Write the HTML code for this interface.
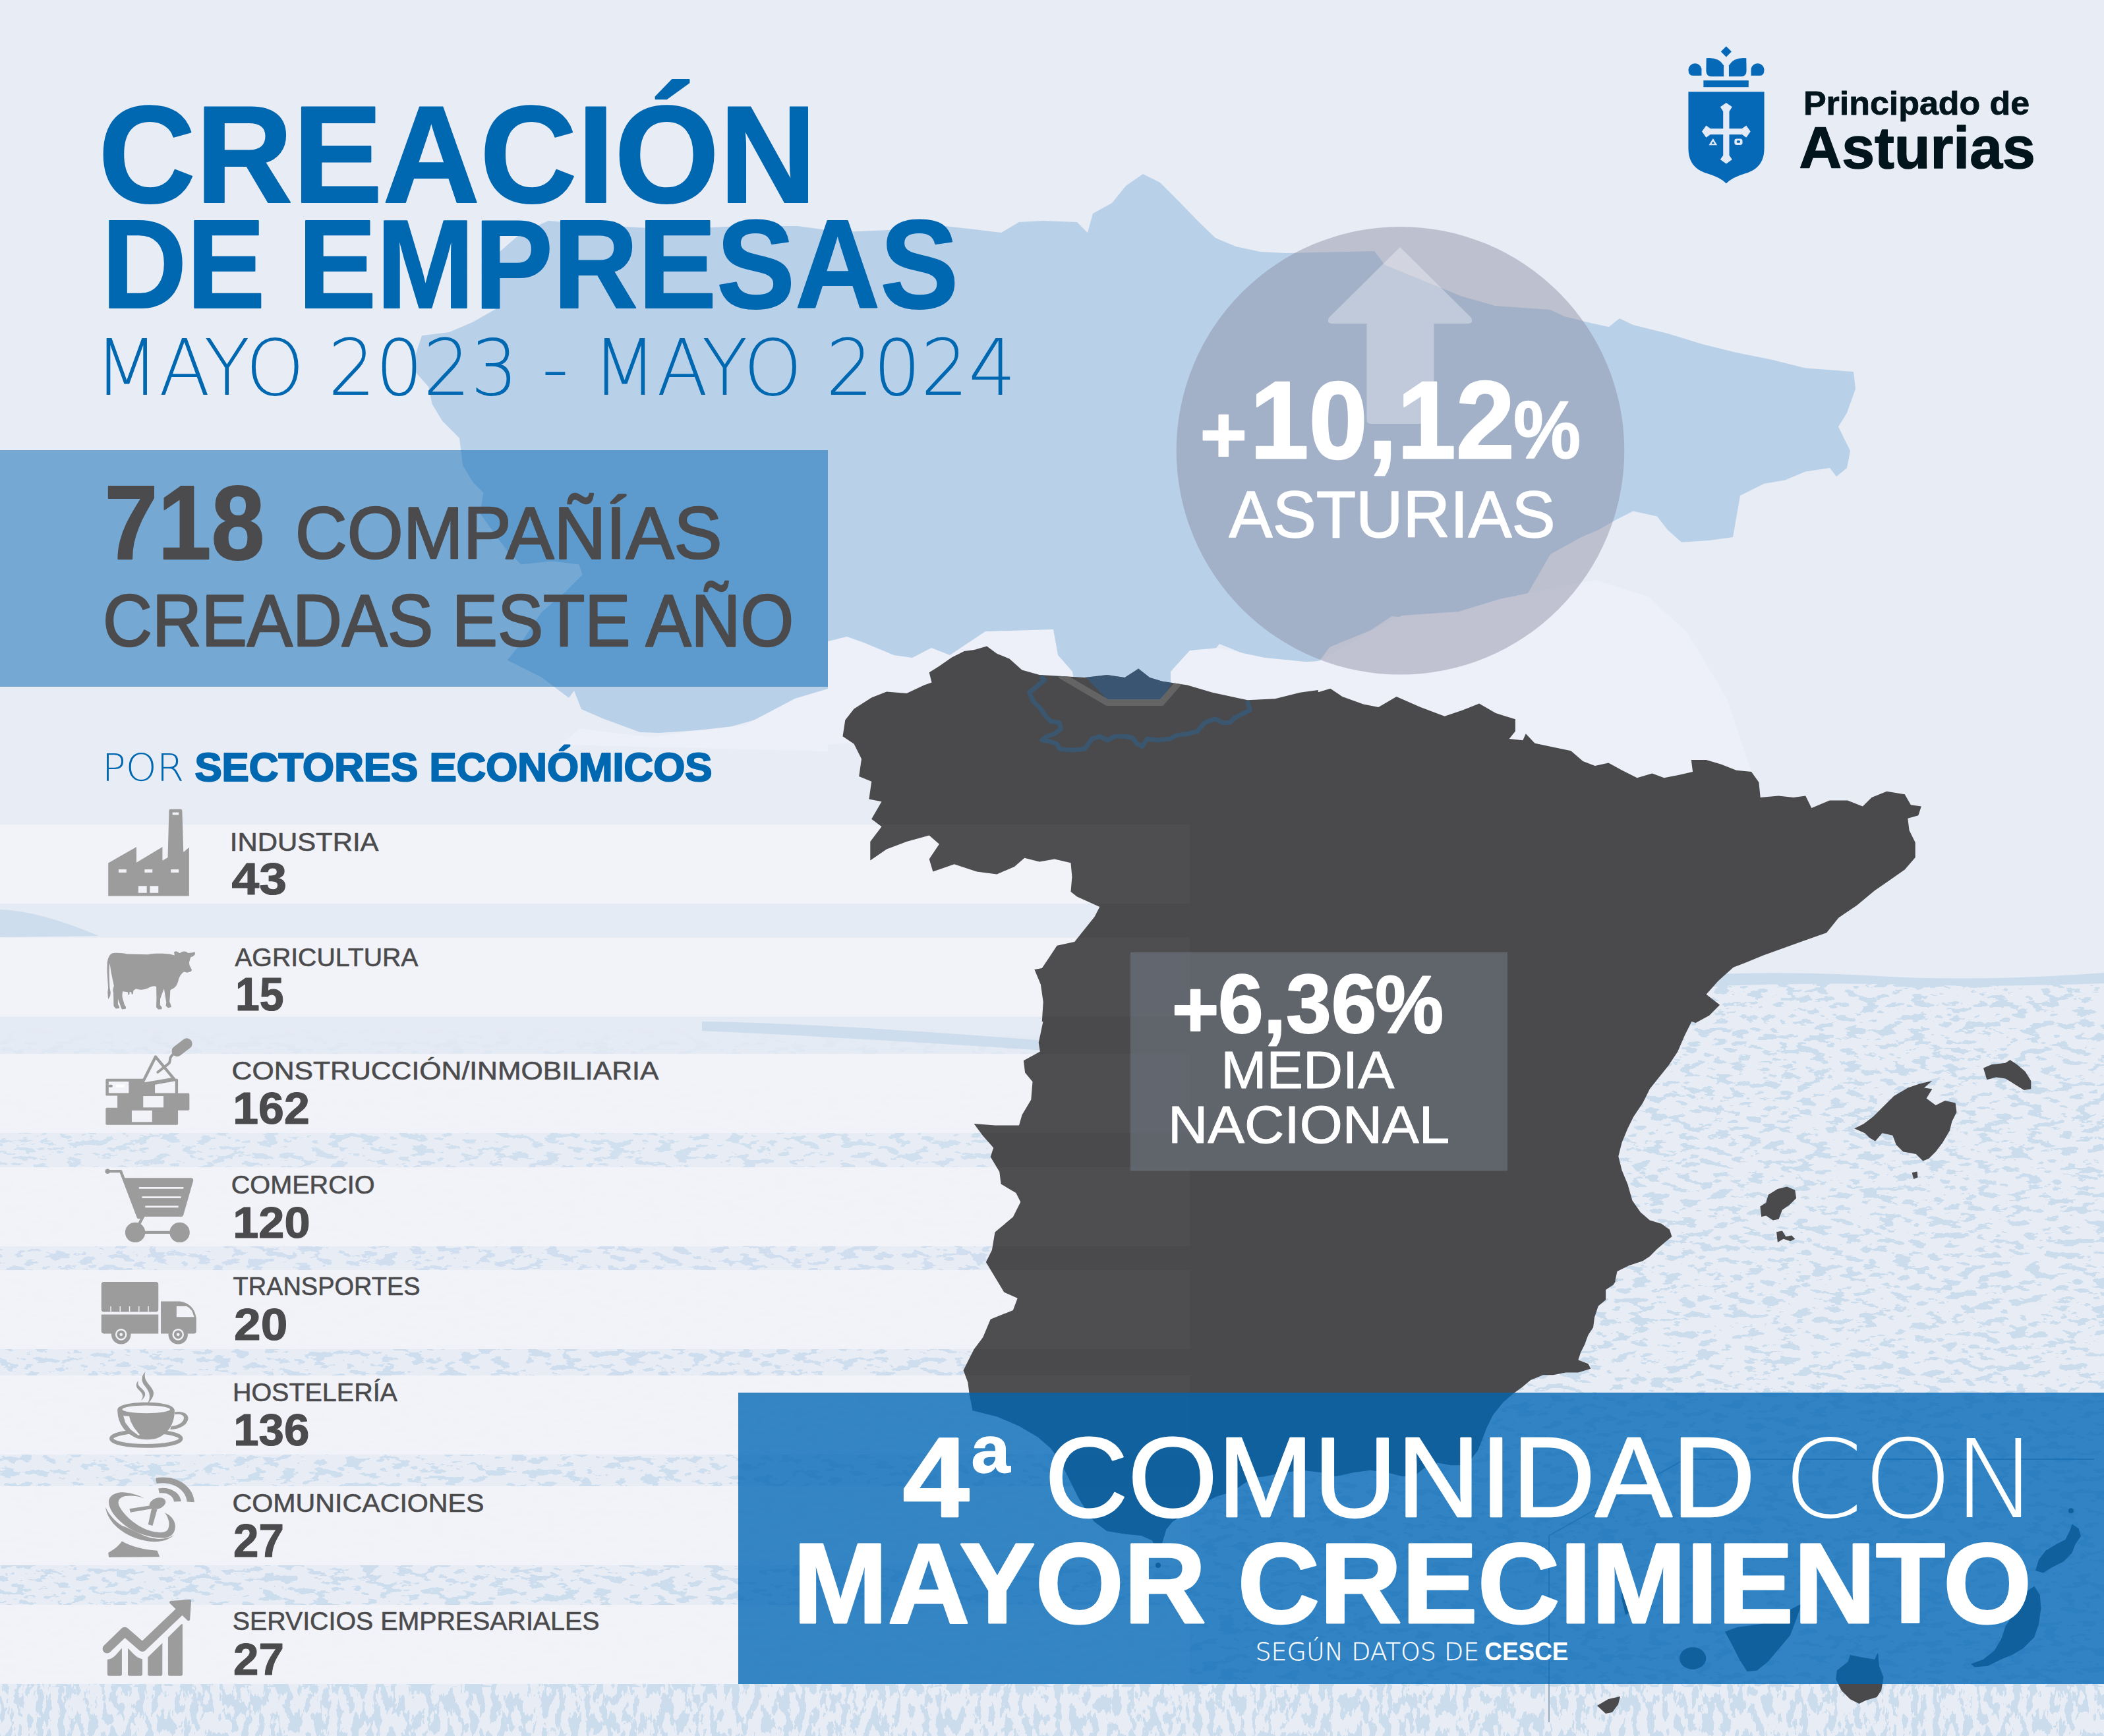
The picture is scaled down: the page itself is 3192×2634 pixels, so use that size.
<!DOCTYPE html>
<html lang="es"><head><meta charset="utf-8"><title>Creación de empresas - Principado de Asturias</title>
<style>html,body{margin:0;padding:0;background:#e8ecf5;}body{width:3192px;height:2634px;overflow:hidden;}svg{display:block;}text{white-space:pre;}</style>
</head><body>
<svg width="3192" height="2634" viewBox="0 0 3192 2634">
<defs>
<filter id="tx" x="0" y="0" width="100%" height="100%" color-interpolation-filters="sRGB">
<feTurbulence type="fractalNoise" baseFrequency="0.04 0.1" numOctaves="4" seed="7"/>
<feColorMatrix type="matrix" values="0 0 0 0 0.796  0 0 0 0 0.863  0 0 0 0 0.929  40 0 0 0 -22.7"/>
</filter>
<filter id="tx2" x="0" y="0" width="100%" height="100%" color-interpolation-filters="sRGB">
<feTurbulence type="fractalNoise" baseFrequency="0.09 0.035" numOctaves="4" seed="11"/>
<feColorMatrix type="matrix" values="0 0 0 0 0.796  0 0 0 0 0.863  0 0 0 0 0.929  40 0 0 0 -20.6"/>
</filter>
<linearGradient id="tg" x1="0" y1="0" x2="0" y2="1"><stop offset="0" stop-color="#fff" stop-opacity="0"/><stop offset="0.12" stop-color="#fff" stop-opacity="0.8"/><stop offset="1" stop-color="#fff" stop-opacity="1"/></linearGradient>
<mask id="tm"><rect x="0" y="1560" width="1700" height="1074" fill="url(#tg)"/><rect x="1700" y="1492" width="1492" height="1142" fill="#fff"/></mask>
<clipPath id="mapclip"><path d="M1278.5 1117.3 L1282.3 1092.6 L1295.6 1075.5 L1322.2 1058.4 L1345.1 1049.6 L1375.5 1051.9 L1402.1 1039.4 L1413.5 1035.6 L1409.7 1020.3 L1424.9 1010.8 L1443.9 997.5 L1462.9 988 L1478.1 986.1 L1497.1 980.4 L1512.4 991.8 L1531.4 999.4 L1550.4 1016.5 L1577 1024.1 L1611.2 1026 L1645.4 1027.9 L1679.7 1024.1 L1706.3 1027.9 L1727.2 1014.6 L1744.3 1027.9 L1763.3 1033.7 L1801.3 1039.4 L1839.4 1050.8 L1892.6 1062.2 L1934.4 1060.3 L1972.4 1050.8 L1999.8 1047 L2000 1050.2 L2018.3 1044.7 L2036.5 1057 L2068.4 1068.4 L2091.3 1073 L2118.6 1057 L2155.1 1073 L2191.6 1086.7 L2219 1077.6 L2244.1 1067.5 L2269.2 1082.1 L2298.9 1091.3 L2298.9 1109.5 L2289.7 1120.9 L2310.3 1123.2 L2314.8 1113.2 L2328.5 1127.8 L2360.5 1134.6 L2383.3 1139.2 L2401.5 1155.1 L2419.8 1162 L2440.3 1157.4 L2460.8 1168.8 L2483.7 1180.2 L2506.5 1173.4 L2524.7 1180.2 L2547.5 1175.7 L2568.1 1171.1 L2565.8 1152.9 L2588.6 1152.9 L2611.4 1159.7 L2634.2 1168.8 L2657 1171.1 L2668.4 1187.1 L2670.7 1209.9 L2698.1 1207.6 L2720.9 1209.9 L2739.2 1207.6 L2748.3 1225.9 L2775.7 1214.4 L2803 1214.4 L2825.9 1223.6 L2839.5 1209.9 L2862.4 1200.8 L2889.7 1205.3 L2898.9 1221.3 L2914.8 1223.6 L2910.3 1237.3 L2894.3 1241.8 L2896.6 1260.1 L2905.7 1278.3 L2905.7 1301.1 L2889.7 1319.4 L2866.9 1335.4 L2844.1 1351.3 L2816.7 1374.1 L2789.4 1392.4 L2771.1 1415.2 L2739.2 1426.6 L2707.2 1438 L2675.3 1449.4 L2647.9 1460.8 L2629.7 1467.7 L2606.8 1488.2 L2588.6 1508.7 L2609.1 1524.7 L2593.2 1540.7 L2572.6 1552.1 L2566.4 1550 L2555.8 1571.2 L2545.2 1595.8 L2531.1 1617 L2517 1634.6 L2502.9 1652.3 L2492.3 1673.4 L2478.2 1694.6 L2469.4 1712.2 L2460.6 1733.4 L2455.3 1754.5 L2460.6 1775.7 L2469.4 1796.9 L2476.4 1821.5 L2488.8 1839.2 L2502.9 1851.5 L2520.5 1856.8 L2532.9 1865.6 L2536.4 1876.2 L2525.8 1885 L2513.5 1895.6 L2502.9 1906.2 L2492.3 1913.2 L2471.2 1920.3 L2453.5 1929.1 L2450 1945 L2455.1 1938 L2447.5 1949.4 L2436.1 1957 L2436.1 1972.2 L2424.7 1981.7 L2419 1998.9 L2417.1 2014.1 L2409.5 2025.5 L2403.8 2040.7 L2398.1 2052.1 L2394.3 2063.5 L2409.5 2069.2 L2413.3 2076.8 L2394.3 2082.5 L2375.3 2082.5 L2356.3 2086.3 L2341.1 2086.3 L2322.1 2093.9 L2308.7 2105.3 L2295.4 2114.8 L2280.2 2128.1 L2265 2147.1 L2255.5 2166.2 L2249.8 2181.4 L2242.2 2200.4 L2230.8 2215.6 L2219.4 2223.2 L2200.4 2223.2 L2181.4 2219.4 L2166.2 2223.2 L2147.1 2238.4 L2128.1 2240.3 L2105.3 2234.6 L2078.7 2230.8 L2052.1 2234.6 L2025.5 2240.3 L2006.5 2234.6 L1976 2230.8 L1945.6 2234.6 L1919 2240.3 L1900 2242.2 L1869.2 2263.6 L1845.4 2270.7 L1821.6 2282.6 L1797.9 2296.8 L1778.9 2308.7 L1769.4 2320.6 L1762.2 2344.4 L1755.1 2351.5 L1748 2337.2 L1731.3 2330.1 L1707.6 2327.7 L1679 2323 L1660 2308.7 L1648.2 2292.1 L1636.3 2273.1 L1626.8 2254.1 L1617.3 2235.1 L1607.8 2216 L1593.5 2197 L1574.5 2180.4 L1546 2163.8 L1512.7 2149.5 L1474.7 2140 L1475.3 2138.6 L1470.7 2115.8 L1468.4 2097.5 L1461.6 2079.3 L1468.4 2065.6 L1477.6 2047.3 L1491.3 2029.1 L1502.7 2001.7 L1536.9 1988 L1543.7 1969.8 L1523.2 1960.6 L1509.5 1937.8 L1495.8 1915 L1504.9 1896.8 L1509.5 1869.4 L1536.9 1846.6 L1548.3 1823.8 L1541.4 1810.1 L1518.6 1796.4 L1516.3 1778.1 L1502.7 1755.3 L1507.2 1741.6 L1491.3 1723.4 L1477.6 1705.1 L1509.5 1707.4 L1546 1707.4 L1550.6 1691.4 L1564.3 1668.6 L1566.5 1641.3 L1555.1 1627.6 L1552.9 1609.3 L1577.9 1595.6 L1575.7 1581.9 L1582.5 1550 L1580.8 1550 L1582.7 1520.3 L1578.9 1493.7 L1569.4 1470.9 L1580.8 1469 L1592.2 1451.9 L1603.6 1434.8 L1630.2 1429.1 L1645.4 1410.1 L1660.6 1391.1 L1668.3 1375.9 L1634 1360.6 L1624.5 1353 L1626.4 1330.2 L1624.5 1309.3 L1599.8 1303.6 L1577 1307.4 L1554.2 1301.7 L1539 1315 L1512.4 1326.4 L1481.9 1322.6 L1447.7 1311.2 L1415.4 1322.6 L1409.7 1303.6 L1424.9 1280.8 L1409.7 1267.5 L1375.5 1277 L1345.1 1288.4 L1320.3 1305.5 L1320.3 1277 L1337.5 1254.2 L1322.2 1242.8 L1337.5 1216.2 L1318.4 1212.4 L1322.2 1185.7 L1303.2 1178.1 L1307 1151.5 L1295.6 1128.7Z"/></clipPath>
</defs>
<rect width="3192" height="2634" fill="#e8ecf5"/>
<rect x="0" y="1250" width="1700" height="350" fill="#cbdced" fill-opacity="0.07"/>
<g mask="url(#tm)"><rect x="0" y="1480" width="3192" height="1080" filter="url(#tx)"/><rect x="0" y="2555" width="3192" height="79" filter="url(#tx2)"/></g>
<path d="M2560 1480 Q2700 1472 2850 1481 T3192 1476 L3192 1492 Q3050 1498 2900 1494 T2600 1496 Z" fill="#cbdced"/>
<path d="M0 1380 Q60 1382 150 1420 L0 1422 Z M1065 1550 Q1250 1552 1650 1584 L1650 1598 Q1250 1572 1065 1564 Z" fill="#c3d7ea" fill-opacity="0.7"/>

<path d="M832 335 L915 342 L1018 348 L1122 343 L1210 343 L1278 352 L1373 348 L1425 342 L1478 348 L1519 353 L1546 337 L1582 335 L1634 337 L1650 353 L1658 324 L1687 308 L1708 282 L1734 264 L1760 277 L1791 308 L1817 335 L1844 361 L1875 374 L1912 382 L1950 384 L2085 381 L2101 402 L2216 449 L2268 464 L2352 470 L2373 480 L2415 490.6 L2441 496 L2457 483 L2477.6 493 L2530 506 L2582 522 L2634.5 535 L2687 545.5 L2739 558.6 L2812 564 L2815 590 L2802 626.6 L2789 647.5 L2807 684 L2802 710 L2786 723 L2776 710 L2739 715.5 L2708 728.5 L2676 734 L2640 752 L2634.5 783.5 L2629 815 L2592.7 820 L2551 822.7 L2530 804 L2514 783.5 L2477.6 775.6 L2451.5 788.7 L2425 804 L2399 815 L2352 841 L2331 877.6 L2310 914 L2268 924.7 L2216 935 L2164 940 L2111.5 935 L2080 956 L2017 982 L2001.7 1003 L1954.6 1005.7 L1902 998 L1850 977 L1800 1040 L1700 1060 L1500 1080 L1300 1090 L1206 1075 L1100 1105 L1000 1112 L971 1111 L914 1090 L882 1076 L871 1048 L862.9 1058.8 L821.4 1027.6 L769.6 1001.7 L790.3 975.8 L821.4 929.1 L857.7 898 L883.6 872.1 L878.5 856.6 L837 851.4 L790.3 856.6 L769.6 835.8 L754 815.1 L728.1 778.8 L733.3 747.7 L717.7 732.1 L702.2 706.2 L699.6 685.5 L697 664.7 L671.1 638.8 L655.5 612.9 L650.3 587 L627 561.1 L629.6 540.3 L640 509.2 L681.5 504 L717.7 488.5 L754 467.7 L743.7 421.1 L748.8 390 L790.3 353.7Z" fill="#b9d1e8"/>
<path d="M1256 1042 L1256 973 L1285 966 L1313 976 L1356 994 L1384 998 L1413 983 L1441 994 L1495 958 L1598 955 L1605 994 L1627 1019 L1640 1100 L1256 1130Z" fill="#edf0f8"/>
<path d="M1776 1019 L1805 987 L1848 983 L1919 998 L1990 1005 L2003 1002 L2090 952 L2127 934 L2213 928 L2275 909 L2318 900 L2420 880 L2500 905 L2560 960 L2620 1060 L2660 1180 L1776 1180Z" fill="#edf0f8"/>
<path d="M850 1130 L880 1105 L930 1112 L990 1118 L1060 1108 L1130 1100 L1206 1060 L1256 1045 L1256 1140Z" fill="#edf0f8"/>
<rect x="0" y="683" width="1256" height="359" fill="#0266b3" fill-opacity="0.5"/>
<rect x="0" y="1251" width="1805" height="120" fill="#f2f3f8" fill-opacity="0.97"/>
<rect x="0" y="1422.5" width="1805" height="120.0" fill="#f2f3f8" fill-opacity="0.97"/>
<rect x="0" y="1599" width="1805" height="120" fill="#f2f3f8" fill-opacity="0.97"/>
<rect x="0" y="1771" width="1805" height="120" fill="#f2f3f8" fill-opacity="0.97"/>
<rect x="0" y="1927" width="1805" height="120" fill="#f2f3f8" fill-opacity="0.97"/>
<rect x="0" y="2087" width="1805" height="120" fill="#f2f3f8" fill-opacity="0.97"/>
<rect x="0" y="2255" width="1805" height="120" fill="#f2f3f8" fill-opacity="0.97"/>
<rect x="0" y="2435" width="1805" height="120" fill="#f2f3f8" fill-opacity="0.97"/>
<path d="M1278.5 1117.3 L1282.3 1092.6 L1295.6 1075.5 L1322.2 1058.4 L1345.1 1049.6 L1375.5 1051.9 L1402.1 1039.4 L1413.5 1035.6 L1409.7 1020.3 L1424.9 1010.8 L1443.9 997.5 L1462.9 988 L1478.1 986.1 L1497.1 980.4 L1512.4 991.8 L1531.4 999.4 L1550.4 1016.5 L1577 1024.1 L1611.2 1026 L1645.4 1027.9 L1679.7 1024.1 L1706.3 1027.9 L1727.2 1014.6 L1744.3 1027.9 L1763.3 1033.7 L1801.3 1039.4 L1839.4 1050.8 L1892.6 1062.2 L1934.4 1060.3 L1972.4 1050.8 L1999.8 1047 L2000 1050.2 L2018.3 1044.7 L2036.5 1057 L2068.4 1068.4 L2091.3 1073 L2118.6 1057 L2155.1 1073 L2191.6 1086.7 L2219 1077.6 L2244.1 1067.5 L2269.2 1082.1 L2298.9 1091.3 L2298.9 1109.5 L2289.7 1120.9 L2310.3 1123.2 L2314.8 1113.2 L2328.5 1127.8 L2360.5 1134.6 L2383.3 1139.2 L2401.5 1155.1 L2419.8 1162 L2440.3 1157.4 L2460.8 1168.8 L2483.7 1180.2 L2506.5 1173.4 L2524.7 1180.2 L2547.5 1175.7 L2568.1 1171.1 L2565.8 1152.9 L2588.6 1152.9 L2611.4 1159.7 L2634.2 1168.8 L2657 1171.1 L2668.4 1187.1 L2670.7 1209.9 L2698.1 1207.6 L2720.9 1209.9 L2739.2 1207.6 L2748.3 1225.9 L2775.7 1214.4 L2803 1214.4 L2825.9 1223.6 L2839.5 1209.9 L2862.4 1200.8 L2889.7 1205.3 L2898.9 1221.3 L2914.8 1223.6 L2910.3 1237.3 L2894.3 1241.8 L2896.6 1260.1 L2905.7 1278.3 L2905.7 1301.1 L2889.7 1319.4 L2866.9 1335.4 L2844.1 1351.3 L2816.7 1374.1 L2789.4 1392.4 L2771.1 1415.2 L2739.2 1426.6 L2707.2 1438 L2675.3 1449.4 L2647.9 1460.8 L2629.7 1467.7 L2606.8 1488.2 L2588.6 1508.7 L2609.1 1524.7 L2593.2 1540.7 L2572.6 1552.1 L2566.4 1550 L2555.8 1571.2 L2545.2 1595.8 L2531.1 1617 L2517 1634.6 L2502.9 1652.3 L2492.3 1673.4 L2478.2 1694.6 L2469.4 1712.2 L2460.6 1733.4 L2455.3 1754.5 L2460.6 1775.7 L2469.4 1796.9 L2476.4 1821.5 L2488.8 1839.2 L2502.9 1851.5 L2520.5 1856.8 L2532.9 1865.6 L2536.4 1876.2 L2525.8 1885 L2513.5 1895.6 L2502.9 1906.2 L2492.3 1913.2 L2471.2 1920.3 L2453.5 1929.1 L2450 1945 L2455.1 1938 L2447.5 1949.4 L2436.1 1957 L2436.1 1972.2 L2424.7 1981.7 L2419 1998.9 L2417.1 2014.1 L2409.5 2025.5 L2403.8 2040.7 L2398.1 2052.1 L2394.3 2063.5 L2409.5 2069.2 L2413.3 2076.8 L2394.3 2082.5 L2375.3 2082.5 L2356.3 2086.3 L2341.1 2086.3 L2322.1 2093.9 L2308.7 2105.3 L2295.4 2114.8 L2280.2 2128.1 L2265 2147.1 L2255.5 2166.2 L2249.8 2181.4 L2242.2 2200.4 L2230.8 2215.6 L2219.4 2223.2 L2200.4 2223.2 L2181.4 2219.4 L2166.2 2223.2 L2147.1 2238.4 L2128.1 2240.3 L2105.3 2234.6 L2078.7 2230.8 L2052.1 2234.6 L2025.5 2240.3 L2006.5 2234.6 L1976 2230.8 L1945.6 2234.6 L1919 2240.3 L1900 2242.2 L1869.2 2263.6 L1845.4 2270.7 L1821.6 2282.6 L1797.9 2296.8 L1778.9 2308.7 L1769.4 2320.6 L1762.2 2344.4 L1755.1 2351.5 L1748 2337.2 L1731.3 2330.1 L1707.6 2327.7 L1679 2323 L1660 2308.7 L1648.2 2292.1 L1636.3 2273.1 L1626.8 2254.1 L1617.3 2235.1 L1607.8 2216 L1593.5 2197 L1574.5 2180.4 L1546 2163.8 L1512.7 2149.5 L1474.7 2140 L1475.3 2138.6 L1470.7 2115.8 L1468.4 2097.5 L1461.6 2079.3 L1468.4 2065.6 L1477.6 2047.3 L1491.3 2029.1 L1502.7 2001.7 L1536.9 1988 L1543.7 1969.8 L1523.2 1960.6 L1509.5 1937.8 L1495.8 1915 L1504.9 1896.8 L1509.5 1869.4 L1536.9 1846.6 L1548.3 1823.8 L1541.4 1810.1 L1518.6 1796.4 L1516.3 1778.1 L1502.7 1755.3 L1507.2 1741.6 L1491.3 1723.4 L1477.6 1705.1 L1509.5 1707.4 L1546 1707.4 L1550.6 1691.4 L1564.3 1668.6 L1566.5 1641.3 L1555.1 1627.6 L1552.9 1609.3 L1577.9 1595.6 L1575.7 1581.9 L1582.5 1550 L1580.8 1550 L1582.7 1520.3 L1578.9 1493.7 L1569.4 1470.9 L1580.8 1469 L1592.2 1451.9 L1603.6 1434.8 L1630.2 1429.1 L1645.4 1410.1 L1660.6 1391.1 L1668.3 1375.9 L1634 1360.6 L1624.5 1353 L1626.4 1330.2 L1624.5 1309.3 L1599.8 1303.6 L1577 1307.4 L1554.2 1301.7 L1539 1315 L1512.4 1326.4 L1481.9 1322.6 L1447.7 1311.2 L1415.4 1322.6 L1409.7 1303.6 L1424.9 1280.8 L1409.7 1267.5 L1375.5 1277 L1345.1 1288.4 L1320.3 1305.5 L1320.3 1277 L1337.5 1254.2 L1322.2 1242.8 L1337.5 1216.2 L1318.4 1212.4 L1322.2 1185.7 L1303.2 1178.1 L1307 1151.5 L1295.6 1128.7Z" fill="#4a4a4c"/>
<path d="M2813.2 1712.2 L2827.3 1705.2 L2841.5 1694.6 L2855.6 1680.5 L2873.2 1662.9 L2894.4 1650.5 L2912 1644.5 L2931.4 1639.9 L2919 1650.5 L2931.4 1652.3 L2922.6 1666.4 L2936.7 1677 L2950.8 1669.9 L2966.6 1673.4 L2968.4 1687.5 L2961.4 1701.6 L2957.8 1715.8 L2947.3 1733.4 L2936.7 1747.5 L2926.1 1758.1 L2917.3 1761.6 L2906.7 1751 L2887.3 1747.5 L2876.7 1736.9 L2871.4 1722.8 L2855.6 1719.3 L2845 1731.6 L2836.2 1726.3 L2829.1 1719.3Z" fill="#4a4a4c"/>
<path d="M3009 1620.5 L3021.3 1615.2 L3042.5 1612.8 L3049.5 1608.2 L3060.1 1615.2 L3072.4 1625.8 L3081.3 1639.9 L3081.3 1652.3 L3070.7 1654 L3056.6 1645.2 L3042.5 1636.4 L3028.4 1634.6 L3014.3 1638.2Z" fill="#4a4a4c"/>
<path d="M2670.4 1830.4 L2679.2 1825.1 L2682.8 1812.7 L2696.9 1803.9 L2711 1800.4 L2723.3 1805.7 L2725.1 1818 L2714.5 1828.6 L2703.9 1835.7 L2698.6 1849.8 L2689.8 1851.5 L2679.2 1844.5 L2672.2 1846.2Z" fill="#4a4a4c"/>
<path d="M2695.1 1869.2 L2703.9 1867.4 L2709.2 1876.2 L2718 1874.4 L2723.3 1879.7 L2716.3 1883.3 L2705.7 1879.7 L2696.9 1885Z" fill="#4a4a4c"/>
<path d="M2900.7 1779.2 L2908.5 1777.5 L2909.5 1786.3 L2903.2 1789.1Z" fill="#4a4a4c"/>
<path d="M2616.9 2475.7 L2635.4 2468.9 L2672.4 2463.9 L2712.8 2443.7 L2733 2433.6 L2726.3 2453.8 L2716.2 2480.7 L2699.4 2500.9 L2682.5 2521.1 L2665.7 2534.6 L2650.6 2536.2 L2638.8 2517.7 L2628.7 2497.5Z" fill="#4a4a4c"/>
<path d="M2786.9 2534.6 L2803.7 2521.1 L2807 2511 L2823.9 2514.4 L2844.1 2517.7 L2849.1 2507.6 L2850.8 2527.8 L2857.5 2544.7 L2854.2 2564.8 L2847.4 2574.9 L2830.6 2580 L2820.5 2585 L2807 2578.3 L2793.6 2564.8 L2785.2 2548Z" fill="#4a4a4c"/>
<path d="M3086.3 2406.7 L3094.8 2420.2 L3096.4 2440.3 L3093.1 2463.9 L3086.3 2484.1 L3069.5 2500.9 L3052.7 2511 L3035.9 2517.7 L3015.7 2527.8 L2995.5 2529.5 L2990.4 2524.5 L3008.9 2517.7 L3025.8 2504.3 L3035.9 2487.5 L3042.6 2467.3 L3056.1 2447.1 L3066.1 2426.9 L3076.2 2413.4Z" fill="#4a4a4c"/>
<path d="M3088 2383.1 L3093.1 2366.3 L3103.2 2352.9 L3120 2342.8 L3133.4 2336 L3140.2 2322.6 L3143.5 2312.5 L3153.6 2319.2 L3157 2331 L3148.6 2342.8 L3143.5 2356.2 L3130.1 2369.7 L3113.3 2378.1 L3099.8 2386.5Z" fill="#4a4a4c"/>
<path d="M2462 2395 L2476 2392 L2482 2415 L2476 2445 L2466 2450 L2460 2425Z" fill="#4a4a4c"/>
<path d="M2423 2588 L2440 2578 L2458 2574 L2455 2586 L2446 2598 L2436 2600Z" fill="#4a4a4c"/>
<ellipse cx="2568.1" cy="2516.1" rx="20.2" ry="16.8" fill="#4a4a4c"/>
<circle cx="3141.9" cy="2292.3" r="4" fill="#4a4a4c"/>
<circle cx="1757" cy="2375" r="4" fill="#4a4a4c"/>
<g clip-path="url(#mapclip)">
<rect x="0" y="1251" width="1805" height="120" fill="#fff" fill-opacity="0.022"/>
<rect x="0" y="1422.5" width="1805" height="120.0" fill="#fff" fill-opacity="0.022"/>
<rect x="0" y="1599" width="1805" height="120" fill="#fff" fill-opacity="0.022"/>
<rect x="0" y="1771" width="1805" height="120" fill="#fff" fill-opacity="0.022"/>
<rect x="0" y="1927" width="1805" height="120" fill="#fff" fill-opacity="0.022"/>
<rect x="0" y="2087" width="1805" height="120" fill="#fff" fill-opacity="0.022"/>
<rect x="0" y="2255" width="1805" height="120" fill="#fff" fill-opacity="0.022"/>
<rect x="0" y="2435" width="1805" height="120" fill="#fff" fill-opacity="0.022"/>
<path d="M1640 1020 L1680 1062 L1762 1062 L1782 1030 L1782 900 L1640 900Z" fill="#2d5f8f" fill-opacity="0.55"/>
<path d="M1608 1024 L1680 1066 L1762 1066 L1790 1034" fill="none" stroke="#6a6a6c" stroke-width="10" stroke-opacity="0.8"/>
<path d="M1578.9 1026 L1584.6 1031.7 L1573.2 1041.3 L1561.8 1050.8 L1567.5 1064.1 L1578.9 1075.5 L1586.5 1086.9 L1594.1 1094.5 L1607.4 1096.4 L1609.3 1105.9 L1599.8 1113.5 L1588.4 1117.3 L1580.8 1123 L1592.2 1124.9 L1603.6 1128.7 L1607.4 1136.3 L1626.4 1138.2 L1645.4 1136.3 L1656.8 1121.1 L1668.3 1117.3 L1679.7 1123 L1691.1 1117.3 L1706.3 1117.3 L1717.7 1119.2 L1725.3 1128.7 L1732.9 1132.5 L1740.5 1121.1 L1755.7 1123 L1774.7 1121.1 L1786.1 1115.4 L1801.3 1113.5 L1816.5 1109.7 L1827.9 1096.4 L1843.2 1090.7 L1854.6 1096.4 L1866 1096.4 L1873.6 1088.8 L1885 1083.1 L1896.4 1077.4 L1892.6 1064.1" fill="none" stroke="#3b566f" stroke-width="7" stroke-linejoin="round"/>
</g>
<path d="M2350 2613 L2350 2330 L2556 2214 L3177 2214" fill="none" stroke="#5a7f9f" stroke-opacity="0.6" stroke-width="2"/>
<circle cx="2124.5" cy="683.8" r="339.8" fill="#85869d" fill-opacity="0.43"/>
<path d="M2124 375 L2232 482 Q2236 491 2226 491 L2175.5 491 L2175.5 637 Q2175.5 643 2169 643 L2080 643 Q2073.5 643 2073.5 637 L2073.5 491 L2022 491 Q2012 491 2016 482 Z" fill="#fff" fill-opacity="0.33"/>
<rect x="1715" y="1445" width="572" height="331.5" fill="#838b9c" fill-opacity="0.40"/>
<rect x="1120" y="2113" width="2072" height="442" fill="#0066b5" fill-opacity="0.785"/>
<text transform="translate(149.2,307.0) scale(0.9733,1)" font-size="209.9" font-family="Liberation Sans, sans-serif" font-weight="bold" fill="#0067b1" stroke="#0067b1" stroke-width="2" stroke-linejoin="round">CREACIÓN</text>
<text transform="translate(154.2,466.7) scale(0.9371,1)" font-size="190.6" font-family="Liberation Sans, sans-serif" font-weight="bold" fill="#0067b1" stroke="#0067b1" stroke-width="2" stroke-linejoin="round">DE EMPRESAS</text>
<text transform="translate(143.5,599.0) scale(0.9553,1)" font-size="118.5" font-family="DejaVu Sans Light, DejaVu Sans, sans-serif" font-weight="200" fill="#0067b1">MAYO 2023 - MAYO 2024</text>
<text transform="translate(158.5,848.0) scale(0.9174,1)" font-size="158.7" font-family="Liberation Sans, sans-serif" font-weight="bold" fill="#4b4b4d" stroke="#4b4b4d" stroke-width="2" stroke-linejoin="round">718</text>
<text transform="translate(447.8,847.0) scale(0.9891,1)" font-size="110.5" font-family="Liberation Sans, sans-serif" fill="#4b4b4d" stroke="#4b4b4d" stroke-width="2.5" stroke-linejoin="round">COMPAÑÍAS</text>
<text transform="translate(156.1,980.0) scale(0.9377,1)" font-size="110.5" font-family="Liberation Sans, sans-serif" fill="#4b4b4d" stroke="#4b4b4d" stroke-width="2.5" stroke-linejoin="round">CREADAS ESTE AÑO</text>
<text transform="translate(154.7,1184.6) scale(1.0459,1)" font-size="57.1" font-family="DejaVu Sans Light, DejaVu Sans, sans-serif" font-weight="200" fill="#0067b1">POR</text>
<text transform="translate(295.4,1184.6) scale(1.0217,1)" font-size="60.5" font-family="Liberation Sans, sans-serif" font-weight="bold" fill="#0067b1" stroke="#0067b1" stroke-width="2.2" stroke-linejoin="round">SECTORES ECONÓMICOS</text>
<text transform="translate(348.8,1290.6) scale(1.1052,1)" font-size="37.9" font-family="Liberation Sans, sans-serif" fill="#4b4b4d" stroke="#4b4b4d" stroke-width="0.6" stroke-linejoin="round">INDUSTRIA</text>
<text transform="translate(356.2,1465.5) scale(1.0196,1)" font-size="38.5" font-family="Liberation Sans, sans-serif" fill="#4b4b4d" stroke="#4b4b4d" stroke-width="0.6" stroke-linejoin="round">AGRICULTURA</text>
<text transform="translate(351.6,1637.5) scale(1.1095,1)" font-size="38.5" font-family="Liberation Sans, sans-serif" fill="#4b4b4d" stroke="#4b4b4d" stroke-width="0.6" stroke-linejoin="round">CONSTRUCCIÓN/INMOBILIARIA</text>
<text transform="translate(350.7,1810.5) scale(1.0299,1)" font-size="38.5" font-family="Liberation Sans, sans-serif" fill="#4b4b4d" stroke="#4b4b4d" stroke-width="0.6" stroke-linejoin="round">COMERCIO</text>
<text transform="translate(353.5,1965.4) scale(0.9889,1)" font-size="38.4" font-family="Liberation Sans, sans-serif" fill="#4b4b4d" stroke="#4b4b4d" stroke-width="0.6" stroke-linejoin="round">TRANSPORTES</text>
<text transform="translate(352.9,2125.6) scale(1.0204,1)" font-size="38.7" font-family="Liberation Sans, sans-serif" fill="#4b4b4d" stroke="#4b4b4d" stroke-width="0.6" stroke-linejoin="round">HOSTELERÍA</text>
<text transform="translate(352.5,2293.8) scale(1.0508,1)" font-size="39.2" font-family="Liberation Sans, sans-serif" fill="#4b4b4d" stroke="#4b4b4d" stroke-width="0.6" stroke-linejoin="round">COMUNICACIONES</text>
<text transform="translate(352.8,2472.5) scale(1.0220,1)" font-size="38.5" font-family="Liberation Sans, sans-serif" fill="#4b4b4d" stroke="#4b4b4d" stroke-width="0.6" stroke-linejoin="round">SERVICIOS EMPRESARIALES</text>
<text transform="translate(351.5,1357.0) scale(1.0907,1)" font-size="68.9" font-family="Liberation Sans, sans-serif" font-weight="bold" fill="#4b4b4d" stroke="#4b4b4d" stroke-width="1.2" stroke-linejoin="round">43</text>
<text transform="translate(357.0,1533.0) scale(0.9388,1)" font-size="70.5" font-family="Liberation Sans, sans-serif" font-weight="bold" fill="#4b4b4d" stroke="#4b4b4d" stroke-width="1.2" stroke-linejoin="round">15</text>
<text transform="translate(353.3,1705.0) scale(1.0082,1)" font-size="69.2" font-family="Liberation Sans, sans-serif" font-weight="bold" fill="#4b4b4d" stroke="#4b4b4d" stroke-width="1.2" stroke-linejoin="round">162</text>
<text transform="translate(353.2,1877.5) scale(1.0412,1)" font-size="67.6" font-family="Liberation Sans, sans-serif" font-weight="bold" fill="#4b4b4d" stroke="#4b4b4d" stroke-width="1.2" stroke-linejoin="round">120</text>
<text transform="translate(355.1,2033.0) scale(1.0555,1)" font-size="69.2" font-family="Liberation Sans, sans-serif" font-weight="bold" fill="#4b4b4d" stroke="#4b4b4d" stroke-width="1.2" stroke-linejoin="round">20</text>
<text transform="translate(354.3,2193.0) scale(0.9985,1)" font-size="69.0" font-family="Liberation Sans, sans-serif" font-weight="bold" fill="#4b4b4d" stroke="#4b4b4d" stroke-width="1.2" stroke-linejoin="round">136</text>
<text transform="translate(354.1,2361.8) scale(0.9943,1)" font-size="69.5" font-family="Liberation Sans, sans-serif" font-weight="bold" fill="#4b4b4d" stroke="#4b4b4d" stroke-width="1.2" stroke-linejoin="round">27</text>
<text transform="translate(354.1,2541.0) scale(1.0006,1)" font-size="69.0" font-family="Liberation Sans, sans-serif" font-weight="bold" fill="#4b4b4d" stroke="#4b4b4d" stroke-width="1.2" stroke-linejoin="round">27</text>
<text transform="translate(1820.4,701.5) scale(1.0058,1)" font-size="121.8" font-family="Liberation Sans, sans-serif" font-weight="bold" fill="#ffffff" stroke="#ffffff" stroke-width="2" stroke-linejoin="round">+</text>
<text transform="translate(1896.3,695.0) scale(0.9581,1)" font-size="167.6" font-family="Liberation Sans, sans-serif" font-weight="bold" fill="#ffffff" stroke="#ffffff" stroke-width="2.5" stroke-linejoin="round">10,12</text>
<text transform="translate(2296.0,695.0) scale(0.9310,1)" font-size="123.5" font-family="Liberation Sans, sans-serif" font-weight="bold" fill="#ffffff" stroke="#ffffff" stroke-width="1.5" stroke-linejoin="round">%</text>
<text transform="translate(1864.6,815.0) scale(0.9801,1)" font-size="101.0" font-family="Liberation Sans, sans-serif" fill="#ffffff" stroke="#ffffff" stroke-width="1.5" stroke-linejoin="round">ASTURIAS</text>
<text transform="translate(1777.8,1573.9) scale(1.0090,1)" font-size="121.6" font-family="Liberation Sans, sans-serif" font-weight="bold" fill="#ffffff" stroke="#ffffff" stroke-width="2" stroke-linejoin="round">+</text>
<text transform="translate(1848.1,1567.4) scale(0.9764,1)" font-size="126.5" font-family="Liberation Sans, sans-serif" font-weight="bold" fill="#ffffff" stroke="#ffffff" stroke-width="2" stroke-linejoin="round">6,36</text>
<text transform="translate(2086.2,1567.4) scale(0.9410,1)" font-size="124.1" font-family="Liberation Sans, sans-serif" font-weight="bold" fill="#ffffff" stroke="#ffffff" stroke-width="2" stroke-linejoin="round">%</text>
<text transform="translate(1852.3,1651.3) scale(1.0491,1)" font-size="79.2" font-family="Liberation Sans, sans-serif" fill="#ffffff" stroke="#ffffff" stroke-width="1" stroke-linejoin="round">MEDIA</text>
<text transform="translate(1772.0,1733.9) scale(1.0530,1)" font-size="79.4" font-family="Liberation Sans, sans-serif" fill="#ffffff" stroke="#ffffff" stroke-width="1" stroke-linejoin="round">NACIONAL</text>
<text transform="translate(1369.5,2300.6) scale(1.0534,1)" font-size="172.7" font-family="Liberation Sans, sans-serif" font-weight="bold" fill="#ffffff" stroke="#ffffff" stroke-width="2.5" stroke-linejoin="round">4</text>
<text transform="translate(1472.9,2292.4) scale(1.0020,1)" font-size="162.2" font-family="Liberation Sans, sans-serif" font-weight="bold" fill="#ffffff" stroke="#ffffff" stroke-width="1.5" stroke-linejoin="round">ª</text>
<text transform="translate(1585.1,2300.6) scale(1.0123,1)" font-size="172.7" font-family="Liberation Sans, sans-serif" fill="#ffffff" stroke="#ffffff" stroke-width="2.5" stroke-linejoin="round">COMUNIDAD</text>
<text transform="translate(2705.1,2301.7) scale(1.0562,1)" font-size="164.2" font-family="DejaVu Sans Light, DejaVu Sans, sans-serif" font-weight="200" fill="#ffffff">CON</text>
<text transform="translate(1203.1,2462.3) scale(0.9987,1)" font-size="172.8" font-family="Liberation Sans, sans-serif" font-weight="bold" fill="#ffffff" stroke="#ffffff" stroke-width="3" stroke-linejoin="round">MAYOR CRECIMIENTO</text>
<text transform="translate(1904.4,2518.8) scale(1.0213,1)" font-size="37.2" font-family="DejaVu Sans Light, DejaVu Sans, sans-serif" font-weight="200" fill="#ffffff" stroke="#ffffff" stroke-width="0.3" stroke-linejoin="round">SEGÚN DATOS DE</text>
<text transform="translate(2252.2,2518.8) scale(0.9378,1)" font-size="39.4" font-family="Liberation Sans, sans-serif" font-weight="bold" fill="#ffffff">CESCE</text>
<text transform="translate(2736.0,174.0) scale(1.0509,1)" font-size="49.4" font-family="Liberation Sans, sans-serif" font-weight="bold" fill="#03151c" stroke="#03151c" stroke-width="0.8" stroke-linejoin="round">Principado de</text>
<text transform="translate(2729.6,254.5) scale(1.0115,1)" font-size="88.5" font-family="Liberation Sans, sans-serif" font-weight="bold" fill="#03151c" stroke="#03151c" stroke-width="1.5" stroke-linejoin="round">Asturias</text>
<g transform="translate(130,1110) scale(0.47529)" fill="#9c9c9c">
<path d="M72 525 L72 420 L162 368 L162 418 L245 368 L245 412 L262 402 L266 253 Q266 248 271 248 L303 248 Q308 248 308 253 L312 385 L330 370 L330 525 Z"/>
<g fill="#f2f3f8"><rect x="105" y="440" width="25" height="10"/><rect x="188" y="440" width="25" height="10"/><rect x="272" y="440" width="25" height="10"/><rect x="168" y="493" width="27" height="22"/><rect x="205" y="493" width="27" height="22"/><rect x="277" y="258" width="20" height="8"/></g>
</g>
<g transform="translate(150,1430) scale(0.07605)" fill="#9c9c9c">
<path d="M290 210 C400 200 500 215 560 230 L980 240 C1100 215 1300 215 1420 235 L1510 255 L1500 190 L1540 175 L1620 215 C1660 170 1720 165 1780 210 L1850 205 L1915 190 L1920 235 C1900 270 1860 290 1830 295 L1800 400 L1810 460 L1855 545 L1840 580 L1760 600 L1700 585 C1640 620 1610 680 1590 740 C1570 830 1540 900 1450 935 L1425 950 L1420 1050 L1410 1180 L1440 1260 L1445 1290 L1380 1305 L1335 1265 L1345 1200 L1300 925 L1265 1010 L1225 1120 L1220 1250 L1255 1290 L1255 1330 L1185 1335 L1145 1295 L1150 1100 L1145 880 C1100 860 1040 880 980 910 C900 950 800 950 740 925 L690 960 L680 1030 L655 1035 L645 985 L615 990 L605 1045 L585 1045 L575 990 L475 975 L465 1050 L470 1100 L510 1240 L540 1290 L535 1325 L460 1335 L440 1290 L380 1120 L380 1230 L410 1290 L405 1310 L340 1320 L295 1270 L290 1000 L280 950 L300 860 L245 600 L225 470 L210 410 L205 600 L215 900 L235 1000 L225 1070 L185 1135 L175 1000 L185 900 L165 600 L165 450 C170 300 220 220 290 210 Z"/>
</g>
<g transform="translate(130,1560) scale(0.47529)" fill="#9c9c9c">
</g>
<g transform="translate(150,1565) scale(0.08639)" fill="#9c9c9c">
<rect x="120" y="1340" width="1270" height="300" rx="20"/><rect x="325" y="1085" width="1265" height="300" rx="20"/><rect x="120" y="830" width="1270" height="300" rx="20"/>
<g fill="#f2f3f8"><rect x="578" y="1388" width="357" height="202"/><rect x="778" y="1135" width="357" height="200"/><rect x="172" y="880" width="353" height="202"/><path d="M985 935 L1340 872 L1340 1082 L985 1082 Z"/></g>
<path d="M995 445 L752 928 L1318 832 Z" fill="#f2f3f8" stroke="#9c9c9c" stroke-width="50" stroke-linejoin="round"/>
<rect x="172" y="935" width="70" height="45" rx="20"/><rect x="300" y="935" width="150" height="45" rx="22" fill="#fff"/>
<path d="M1035 715 L1225 565 C1260 535 1240 480 1265 445 C1285 415 1310 390 1345 365" stroke="#9c9c9c" stroke-width="46" fill="none" stroke-linecap="round"/>
<path d="M1375 345 L1545 215" stroke="#9c9c9c" stroke-width="190" stroke-linecap="round" fill="none"/><path d="M1330 310 L1400 395" stroke="#9c9c9c" stroke-width="70" stroke-linecap="round" fill="none"/>
</g>
<g transform="translate(130,1560) scale(0.47529)" fill="#9c9c9c">
<circle cx="70" cy="457" r="8"/>
<path d="M70 457 L112 457 L168 604 L180 604" stroke="#9c9c9c" stroke-width="9" fill="none" stroke-linejoin="round"/>
<path d="M120 478 L335 478 Q345 478 343 488 L312 596 Q310 602 304 602 L168 602 Z"/>
<g stroke="#f2f3f8" stroke-width="6"><path d="M170 510 L312 510"/><path d="M180 540 L304 540"/><path d="M190 570 L296 570"/></g>
<path d="M184 600 L160 645 M160 652 L300 652" stroke="#9c9c9c" stroke-width="9" fill="none"/>
<circle cx="158" cy="652" r="32"/><circle cx="300" cy="652" r="32"/>
<rect x="50" y="810" width="182" height="96" rx="8"/>
<path d="M50 914 L232 914 L232 975 L58 975 Q50 975 50 967 Z"/>
<path d="M240 872 L300 872 Q345 878 353 925 L353 968 Q353 975 346 975 L240 975 Z"/>
<path d="M290 888 L322 888 Q340 895 346 922 L290 922 Z" fill="#f2f3f8"/>
<g stroke="#f2f3f8" stroke-width="3"><path d="M80 888 V906"/><path d="M110 888 V906"/><path d="M140 888 V906"/><path d="M170 888 V906"/><path d="M200 888 V906"/></g>
<circle cx="113" cy="978" r="31"/><circle cx="295" cy="978" r="31"/><circle cx="113" cy="978" r="16" fill="none" stroke="#f2f3f8" stroke-width="5"/><circle cx="295" cy="978" r="16" fill="none" stroke="#f2f3f8" stroke-width="5"/><circle cx="113" cy="978" r="5" fill="#f2f3f8"/><circle cx="295" cy="978" r="5" fill="#f2f3f8"/>
</g>
<g transform="translate(130,2060) scale(0.47529)" fill="#9c9c9c">
</g>
<g transform="translate(150,2070) scale(0.08065)" fill="#9c9c9c">
<ellipse cx="890" cy="1398" rx="655" ry="138" fill="none" stroke="#9c9c9c" stroke-width="72"/>
<path d="M1425 900 C1550 870 1680 920 1680 1010 C1680 1130 1520 1230 1340 1225 L1365 1165 C1480 1160 1600 1090 1600 1010 C1600 950 1520 930 1430 945 Z"/>
<path d="M350 860 C345 760 600 720 880 715 C1200 715 1430 770 1425 880 C1420 1100 1330 1290 1100 1390 C1000 1425 800 1425 700 1385 C480 1290 350 1100 350 860 Z"/>
<ellipse cx="890" cy="848" rx="450" ry="72" fill="#f2f3f8"/><path d="M460 970 L570 975 L600 1080 L660 1190 L770 1330 L740 1335 L600 1230 L500 1100 Z" fill="#f2f3f8"/>
<path d="M875 140 C800 220 790 300 850 390 C950 510 1000 600 900 770 C960 700 1060 600 1020 500 C980 400 870 330 865 230 C860 190 870 160 875 140 Z"/><path d="M740 310 C690 370 690 420 750 480 C830 560 850 600 795 685 C850 640 890 580 860 520 C820 450 740 420 735 360 Z"/>
</g>
<g transform="translate(150,2230) scale(0.08351)" fill="#9c9c9c">
<path d="M830 520 C700 450 520 400 400 410 C280 420 180 480 180 580 C180 720 300 880 500 1030 C700 1170 1000 1250 1200 1240 C1330 1220 1400 1120 1385 1000 C1370 900 1300 830 1200 780 C1270 880 1300 1000 1250 1090 C1200 1160 1050 1150 900 1100 C700 1030 480 860 380 680 C330 590 350 510 480 480 C600 460 720 480 830 520 Z"/>
<path d="M120 680 C150 900 350 1150 750 1270 C1000 1340 1250 1310 1370 1180 C1250 1270 1000 1300 740 1160 L480 1040 C350 1000 200 850 120 680 Z"/>
<ellipse cx="1065" cy="612" rx="152" ry="98" transform="rotate(-18 1065 612)"/><path d="M1000 640 L555 708 L572 775 L1010 700 Z"/><path d="M960 700 L895 995 L975 1018 L1060 720 Z"/>
<path d="M1080 340 C1300 300 1480 420 1495 575 L1365 582 C1355 480 1250 410 1100 425 Z"/><path d="M1030 150 C1400 80 1720 300 1735 590 L1600 580 C1590 380 1350 200 1050 250 Z"/>
<path d="M170 1510 C280 1450 360 1380 420 1300 C600 1400 800 1450 1060 1470 L1105 1585 L180 1590 Z"/>
</g>
<g transform="translate(140,2410) scale(0.08641)" fill="#9c9c9c">
<path d="M265 1250 C380 1240 440 1130 520 1050 L520 1510 Q520 1535 495 1535 L290 1535 Q265 1535 265 1510 Z"/>
<path d="M625 1050 C720 1140 780 1230 880 1240 L880 1510 Q880 1535 855 1535 L650 1535 Q625 1535 625 1510 Z"/>
<path d="M975 1210 L1230 960 L1230 1510 Q1230 1535 1205 1535 L1000 1535 Q975 1535 975 1510 Z"/>
<path d="M1330 860 L1565 628 Q1585 615 1585 645 L1585 1510 Q1585 1535 1560 1535 L1355 1535 Q1330 1535 1330 1510 Z"/>
<path d="M260 1060 L570 760 L880 1030 L1530 410" stroke="#9c9c9c" stroke-width="160" fill="none" stroke-linejoin="round" stroke-linecap="round"/>
<path d="M1380 245 L1712 222 L1690 545 Z" stroke="#9c9c9c" stroke-width="50" stroke-linejoin="round"/>
</g>
<g transform="translate(2520,40) scale(0.28992)" fill="#0669b8">
<path d="M143 342 L540 342 L540 640 Q540 742 440 770 Q372 790 341 822 Q310 790 242 770 Q143 742 143 640 Z"/>
<rect x="222" y="283" width="236" height="35"/>
<path d="M212 258 L165 258 Q143 258 143 226 A35 36 0 0 1 212 222 Z"/><path d="M471 258 L518 258 Q540 258 540 226 A35 36 0 0 0 471 222 Z"/>
<path d="M237 166 Q302 160 328 204 L328 262 L264 262 Q236 262 236 232 Z"/><path d="M446 166 Q381 160 355 204 L355 262 L419 262 Q447 262 447 232 Z"/>
<path d="M341 104 L369 132 L341 160 L313 132 Z"/>
<g fill="#e4eaf6"><rect x="325" y="425" width="32" height="270"/><rect x="240" y="535" width="202" height="31"/>
<path d="M341 400 L372 422 L357 445 L325 445 L310 422 Z"/><path d="M341 719 L372 697 L357 675 L325 675 L310 697 Z"/>
<path d="M214 550 L236 519 L258 535 L258 566 L236 582 Z"/><path d="M468 550 L446 519 L424 535 L424 566 L446 582 Z"/>
<path d="M272 586 L294 622 L250 622 Z"/><rect x="384" y="588" width="42" height="33" rx="12"/></g>
<path d="M272 602 L280 615 L264 615 Z" fill="#0669b8"/><rect x="396" y="598" width="18" height="12" rx="5" fill="#0669b8"/>
</g>
</svg></body></html>
